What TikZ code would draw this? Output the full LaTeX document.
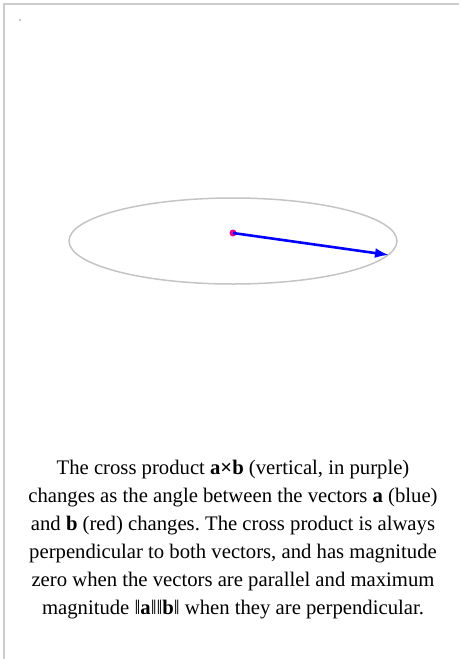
\documentclass[tikz,border=0pt]{standalone}
\usepackage{fontspec}
\setmainfont{Liberation Serif}
\usetikzlibrary{arrows.meta,shapes.geometric}
\definecolor{framegray}{HTML}{CCCCCC}
\definecolor{ellgray}{HTML}{C4C4C4}
\begin{document}
\frenchspacing
\begin{tikzpicture}[x=1pt,y=-1pt,
  frame/.style={framegray,line width=1.5pt},
  vec/.style={blue,line width=2.6pt,-{Latex[length=14pt,width=10pt]}},
  caption/.style={align=center,font=\fontsize{20.7}{28}\selectfont,inner sep=0pt}]
\useasboundingbox (0,0) rectangle (459,659);
\draw[frame] (4,659) -- (4,4) -- (459,4);
\fill[blue!60!black] (20,20) circle (0.7);
\node[draw=ellgray,line width=1.5pt,ellipse,minimum width=328pt,minimum height=86pt,inner sep=0pt] (ell) at (233,241) {};
\node[circle,fill=magenta,inner sep=0pt,minimum size=7pt] (o) at (233,233) {};
\coordinate (tip) at (389,255);
\draw[vec] (o.center) -- (tip);
\node[caption] (cap) at (233,540) {The cross product \textbf{a×b} (vertical, in purple)\\
changes as the angle between the vectors \textbf{a} (blue)\\
and \textbf{b} (red) changes. The cross product is always\\
perpendicular to both vectors, and has magnitude\\
zero when the vectors are parallel and maximum\\
magnitude ‖\textbf{a}‖‖\textbf{b}‖ when they are perpendicular.};
\end{tikzpicture}
\end{document}
